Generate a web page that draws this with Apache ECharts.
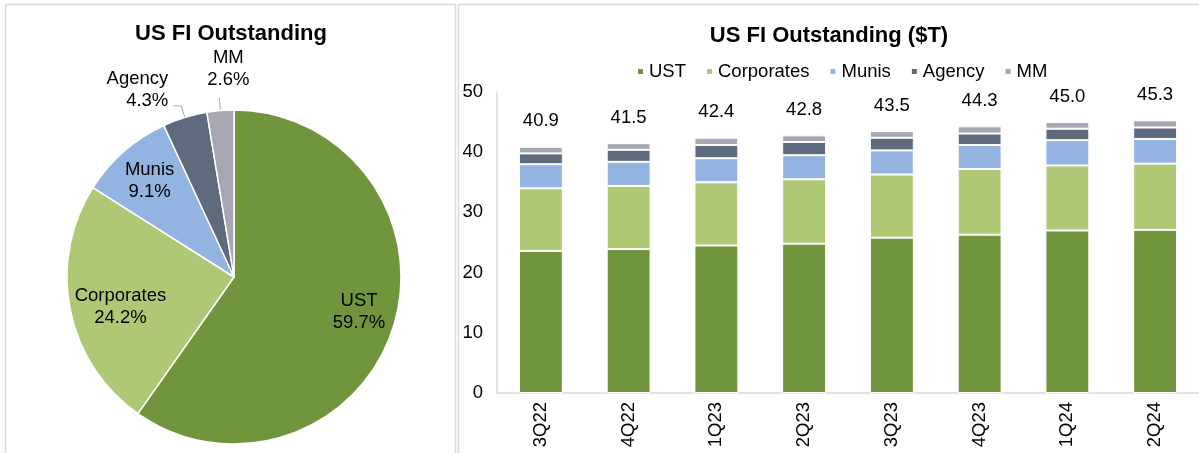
<!DOCTYPE html>
<html>
<head>
<meta charset="utf-8">
<title>US FI Outstanding</title>
<script src="https://cdn.jsdelivr.net/npm/echarts@6/dist/echarts.min.js"></script>
<style>
    html, body { margin: 0; padding: 0; background: #fff; }
    #ChartMain { width: 1199px; height: 453px; }
</style>
</head>
<body>
<div id="ChartMain"></div>
<script>
// 饼图: 各类占比 (%)
var sectors = ['UST', 'Corporates', 'Munis', 'Agency', 'MM'];
var sharePct = [59.7, 24.2, 9.1, 4.3, 2.6];

// 柱状图: 季度存量 ($T)
var quarters = ['3Q22', '4Q22', '1Q23', '2Q23', '3Q23', '4Q23', '1Q24', '2Q24'];
var ust = [23.6, 23.9, 24.5, 24.8, 25.8, 26.3, 27.0, 27.1];
var corporates = [10.4, 10.5, 10.5, 10.7, 10.5, 10.9, 10.8, 11.0];
var munis = [4.0, 4.0, 4.0, 4.0, 4.0, 4.0, 4.2, 4.1];
var agency = [1.8, 2.0, 2.2, 2.2, 2.1, 1.9, 1.9, 1.9];
var mm = [1.1, 1.1, 1.2, 1.1, 1.1, 1.2, 1.1, 1.2];
var yMin = 0, yMax = 50, yStep = 10;

var colors = ['#70953d', '#afc876', '#93b3e0', '#5e6b7d', '#a6a7b2'];
var font = '"Liberation Sans", Arial, sans-serif';
var fs = 18.5;

function GenerateChart() {
    var chart = echarts.init(document.getElementById('ChartMain'));
    var barData = [ust, corporates, munis, agency, mm];

    // 每季度合计, 显示在柱顶
    var totals = quarters.map(function (q, i) {
        var s = 0;
        barData.forEach(function (arr) { s += arr[i]; });
        return Math.round(s * 10) / 10;
    });

    var barSeries = sectors.map(function (name, k) {
        var s = {
            name: name,
            type: 'bar',
            stack: 'total',
            barWidth: '50%',
            data: barData[k],
            itemStyle: {color: colors[k], borderColor: '#fff', borderWidth: 1},
            emphasis: {disabled: true}
        };
        if (k === sectors.length - 1) {
            s.label = {
                show: true,
                position: 'top',
                distance: 16,
                color: '#000',
                fontSize: fs,
                fontFamily: font,
                formatter: function (p) { return totals[p.dataIndex].toFixed(1); }
            };
        }
        return s;
    });

    // 主饼图: 只给小扇区画外部标签
    var pieMain = sectors.map(function (name, k) {
        var item = {name: name, value: sharePct[k], itemStyle: {color: colors[k]}};
        if (k < 3) {
            item.label = {show: false};
            item.labelLine = {show: false};
        } else {
            item.label = {show: true};
            item.labelLine = {show: true, length: k === 3 ? 12 : 13, length2: k === 3 ? 8 : 0};
        }
        return item;
    });
    // 透明饼图, 用来把内部标签放得靠外一些
    var pieInner = sectors.map(function (name, k) {
        return {
            name: name,
            value: sharePct[k],
            itemStyle: {color: 'rgba(0,0,0,0)'},
            label: {show: k < 3}
        };
    });

    var option = {
        animation: false,
        textStyle: {fontFamily: font},
        graphic: [
            {type: 'rect', shape: {x: 5.5, y: 4.5, width: 450, height: 470}, style: {fill: 'none', stroke: '#d9d9d9', lineWidth: 1.5}, silent: true},
            {type: 'rect', shape: {x: 458.5, y: 4.5, width: 800, height: 470}, style: {fill: 'none', stroke: '#d9d9d9', lineWidth: 1.5}, silent: true},
            {type: 'text', x: 231, y: 34, style: {text: 'US FI Outstanding', fontSize: 22, fontWeight: 'bold', fontFamily: font, align: 'center', verticalAlign: 'middle', fill: '#000'}},
            {type: 'text', x: 829, y: 36, style: {text: 'US FI Outstanding ($T)', fontSize: 22, fontWeight: 'bold', fontFamily: font, align: 'center', verticalAlign: 'middle', fill: '#000'}}
        ],
        legend: {
            data: sectors,
            left: 636,
            top: 62,
            padding: 0,
            icon: 'rect',
            itemWidth: 7,
            itemHeight: 7,
            itemGap: 19,
            selectedMode: false,
            textStyle: {fontSize: fs, color: '#000', fontFamily: font}
        },
        grid: {left: 497, right: -12, top: 92, bottom: 60},
        xAxis: {
            type: 'category',
            data: quarters,
            axisTick: {show: false},
            axisLine: {lineStyle: {color: '#d9d9d9', width: 1.5}},
            axisLabel: {rotate: 90, margin: 9, fontSize: fs, color: '#000', fontFamily: font}
        },
        yAxis: {
            type: 'value',
            min: yMin,
            max: yMax,
            interval: yStep,
            splitLine: {show: false},
            axisTick: {show: false},
            axisLine: {show: true, lineStyle: {color: '#d9d9d9', width: 1.5}},
            axisLabel: {margin: 14, fontSize: fs, color: '#000', fontFamily: font}
        },
        series: barSeries.concat([
            {
                type: 'pie',
                center: [234, 277],
                radius: 167,
                startAngle: 90,
                clockwise: true,
                avoidLabelOverlap: false,
                emphasis: {disabled: true},
                itemStyle: {borderColor: '#fff', borderWidth: 1.5},
                label: {
                    position: 'outside',
                    formatter: '{b}\n{c}%',
                    color: '#000',
                    fontSize: fs,
                    lineHeight: 22,
                    fontFamily: font
                },
                labelLine: {lineStyle: {color: '#a6a6a6', width: 1}},
                // 标签放在引导线上方, 引导线保持不变
                labelLayout: function (p) {
                    if (p.dataIndex === 3) {
                        return {dy: -16, labelLinePoints: p.labelLinePoints};
                    }
                    if (p.dataIndex === 4) {
                        return {dx: 14, dy: -29, align: 'center', labelLinePoints: p.labelLinePoints};
                    }
                },
                data: pieMain
            },
            {
                type: 'pie',
                center: [234, 277],
                radius: 250,
                startAngle: 90,
                clockwise: true,
                silent: true,
                emphasis: {disabled: true},
                label: {
                    position: 'inside',
                    formatter: '{b}\n{c}%',
                    color: '#000',
                    fontSize: fs,
                    lineHeight: 22,
                    fontFamily: font
                },
                labelLine: {show: false},
                labelLayout: function (p) {
                    if (p.dataIndex === 1) return {dx: 12, dy: 5};
                    if (p.dataIndex === 0) return {dx: 3, dy: -4};
                },
                data: pieInner
            }
        ])
    };
    chart.setOption(option);
}

GenerateChart();
</script>
</body>
</html>
